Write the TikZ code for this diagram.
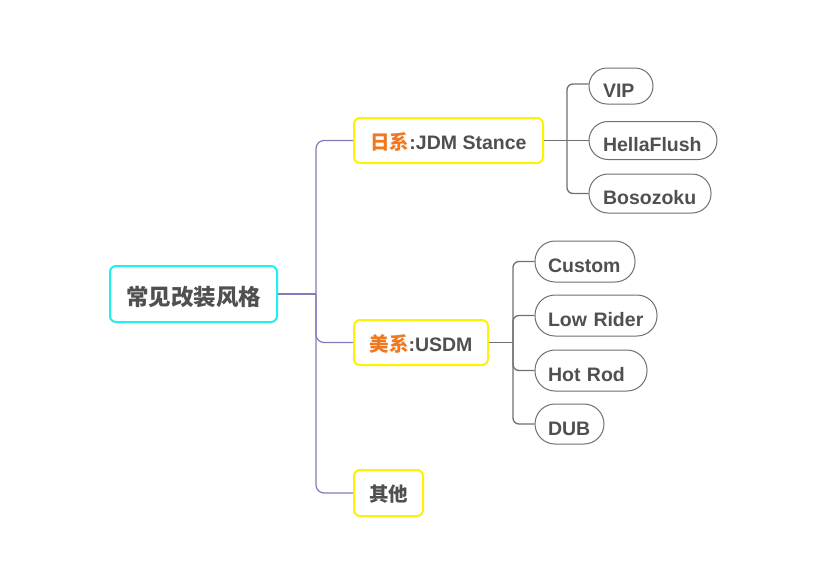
\documentclass[tikz,border=0pt]{standalone}
\usepackage{fontspec}
\setmainfont{Liberation Sans}
\newfontfamily\cjk{Noto Sans CJK SC}
\definecolor{txt}{HTML}{505050}
\definecolor{org}{HTML}{F07820}
\definecolor{cyanb}{HTML}{1EF0F0}
\definecolor{yelb}{HTML}{FFF200}
\definecolor{purp}{HTML}{8878B8}
\definecolor{grayl}{HTML}{707070}
\tikzset{
  rootbox/.style={draw=cyanb,line width=2pt,rounded corners=6pt,fill=white,text=txt,font=\cjk\bfseries\fontsize{22.5}{26}\selectfont,inner sep=0pt,text height=22pt,text depth=0pt},
  catbox/.style={draw=yelb,line width=2pt,rounded corners=6pt,fill=white,text=txt,font=\bfseries\fontsize{19.5}{22}\selectfont,inner sep=0pt,minimum height=45pt,text height=17pt,text depth=0pt},
  pill/.style={draw=grayl,line width=1pt,rounded corners=19pt,fill=white,text=txt,font=\bfseries\fontsize{19.5}{22}\selectfont,inner sep=0pt,text height=22pt,text depth=0pt,align=left},
  trunk/.style={draw=purp,line width=1.2pt,rounded corners=8pt},
  twig/.style={draw=grayl,line width=1.3pt,rounded corners=6pt}
}
\begin{document}
\begin{tikzpicture}[x=1pt,y=-1pt]
\useasboundingbox[fill=white] (0,0) rectangle (822,571);
\node[rootbox,minimum width=167pt,minimum height=56pt] (root) at (193.5,294) {常见改装风格};
\node[catbox,minimum width=189pt] (jdm) at (448.5,140.5) {{\cjk\color{org}日系}:JDM Stance};
\node[catbox,minimum width=134pt] (usdm) at (421,342.5) {{\cjk\color{org}美系}:USDM};
\node[catbox,minimum width=69pt,minimum height=46pt] (other) at (388.5,493) {\cjk 其他};
\node[pill,minimum width=64pt,text width=36pt,minimum height=36pt,rounded corners=18pt] (vip) at (621,86) {VIP};
\node[pill,minimum width=128pt,text width=100pt,minimum height=38pt] (hf) at (653,140.5) {HellaFlush};
\node[pill,minimum width=122pt,text width=94pt,minimum height=39pt] (bs) at (650,193.5) {Bosozoku};
\node[pill,minimum width=100pt,text width=74pt,minimum height=41pt,rounded corners=20pt] (cu) at (585,261.5) {Custom};
\node[pill,minimum width=122pt,text width=96pt,minimum height=41pt,rounded corners=20pt] (lr) at (596,315.5) {Low Rider};
\node[pill,minimum width=112pt,text width=86pt,minimum height=41pt,rounded corners=20pt] (hr) at (591,370.5) {Hot Rod};
\node[pill,minimum width=69pt,text width=43pt,minimum height=40pt,rounded corners=20pt] (dub) at (569.5,424) {DUB};
\coordinate (rj) at (316,294);
\draw[trunk] (root.east) -- (rj);
\draw[trunk] (rj) |- (jdm.west);
\draw[trunk] (rj) |- (usdm.west);
\draw[trunk] (rj) |- (other.west);
\coordinate (jj) at (567,140.5);
\draw[twig] (jdm.east) -- (hf.west);
\draw[twig] (jj) |- ([yshift=2pt]vip.west);
\draw[twig] (jj) |- (bs.west);
\coordinate (uj) at (513,342.5);
\draw[twig] (usdm.east) -- (uj);
\draw[twig] (uj) |- (cu.west);
\draw[twig] (uj) |- (lr.west);
\draw[twig] (uj) |- (hr.west);
\draw[twig] (uj) |- (dub.west);
\end{tikzpicture}
\end{document}
